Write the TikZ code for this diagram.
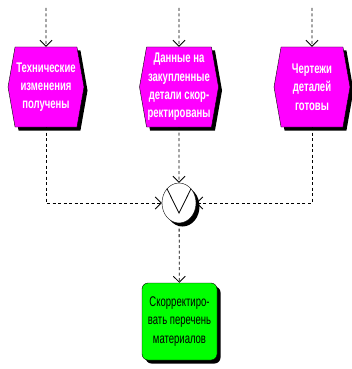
\documentclass[tikz,border=0pt]{standalone}
\usepackage{fontspec}
\setmainfont[FakeStretch=0.68]{Liberation Sans}
\usetikzlibrary{shapes.symbols,shapes.geometric,shadows,arrows.meta,calc}

\definecolor{evmagenta}{RGB}{255,0,255}
\definecolor{fngreen}{RGB}{0,255,0}

\tikzset{
  blackshadow/.style={drop shadow={shadow xshift=3.5pt, shadow yshift=-3.5pt, fill=black, opacity=1}},
  event/.style={signal, signal to=east and west, signal pointer angle=160,
    draw=black, fill=evmagenta, minimum width=76pt, minimum height=80pt, inner sep=1pt,
    text=white, font=\bfseries\fontsize{14}{18.3}\selectfont, align=center, blackshadow},
  func/.style={rectangle, rounded corners=6pt, draw=black, fill=fngreen,
    minimum width=75pt, minimum height=77pt, inner sep=1pt,
    font=\fontsize{14}{18.3}\selectfont, align=center, blackshadow},
  oper/.style={ellipse, draw=black, fill=white, minimum width=34pt, minimum height=40pt,
    inner sep=0pt, blackshadow},
  flow/.style={dash pattern=on 3pt off 2.5pt, line width=0.8pt,
    -{Straight Barb[length=6pt, width=12pt]}}
}

\begin{document}
\begin{tikzpicture}[x=1pt, y=-1pt]
    \useasboundingbox (0,0) rectangle (351,369);
    % events
    \node[event] (ev_a) at (46, 87) {Технические\\изменения\\получены};
    \node[event] (ev_b) at (179, 87) {Данные на\\закупленные\\детали скор-\\ректированы};
    \node[event] (ev_c) at (312, 87) {Чертежи\\деталей\\готовы};
    % OR connector
    \node[oper] (or) at (179, 203) {};
    \draw[line width=0.8pt] (or.130) -- ($(or.center)!.5!(or.south)$) -- (or.50);
    % function
    \node[func] (fn) at (179.5, 321.5) {Скорректиро-\\вать перечень\\материалов};
    % incoming ends
    \coordinate (in_a) at (46, 8);
    \coordinate (in_b) at (179, 8);
    \coordinate (in_c) at (312, 8);
    \draw[flow] (in_a) -- (ev_a);
    \draw[flow] (in_b) -- (ev_b);
    \draw[flow] (in_c) -- (ev_c);
    \draw[flow] (ev_a) |- (or);
    \draw[flow] (ev_b) -- (or);
    \draw[flow] (ev_c) |- (or);
    \draw[flow] (or) -- (fn);
\end{tikzpicture}
\end{document}
